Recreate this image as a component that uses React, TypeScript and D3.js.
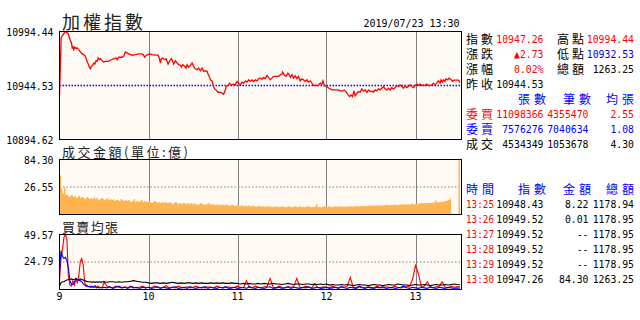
import React from "react";
import * as d3 from "d3";

// ---------- data ----------
const prevClose = 10944.53;
const priceTop = 10994.44;
const priceBottom = 10894.62;

// [minutes since 09:00, index]
const pricePoints: [number, number][] = [
  [0, 10935.76], [1.1, 10988.66], [2.2, 10991.18], [4, 10994.44], [5.9, 10992.39], [6.3, 10990.24],
  [7.2, 10986.14], [8.1, 10983.99], [8.6, 10978.67], [9, 10980.91], [9.6, 10977.74], [10.3, 10979.98],
  [11.2, 10978.67], [11.9, 10979.33], [13, 10977.74], [14.1, 10975.6], [15.3, 10973.73], [16.4, 10973.08],
  [17.5, 10971.58], [18.2, 10968.41], [19.1, 10965.33], [20.2, 10961.32], [20.9, 10960.02], [21.5, 10962.26],
  [22.4, 10963.19], [23.1, 10965.33], [23.8, 10964.4], [24.7, 10967.48], [25.4, 10966.92], [26.1, 10970.0],
  [27, 10968.41], [27.6, 10969.35], [28.8, 10967.48], [29.8, 10965.99], [31, 10966.92], [33.2, 10966.92],
  [34.3, 10967.85], [36.6, 10969.35], [38.2, 10970.0], [38.9, 10968.41], [39.9, 10970.65], [42.2, 10970.65],
  [43.3, 10971.58], [44.4, 10975.6], [46.7, 10973.73], [49, 10972.52], [51.2, 10973.08], [53.4, 10973.73],
  [55.2, 10973.73], [56.4, 10973.08], [57.4, 10970.65], [58.4, 10972.52], [59.7, 10973.08], [60.8, 10973.73],
  [62.4, 10973.08], [64.6, 10972.52], [66.5, 10972.52], [67.3, 10970.0], [68, 10965.33], [68.7, 10969.35],
  [69.6, 10970.0], [70.9, 10968.41], [71.9, 10969.35], [73.2, 10964.4], [74.1, 10966.92], [75.4, 10969.35],
  [76.3, 10966.92], [77, 10964.4], [78.1, 10967.48], [79.3, 10965.33], [80.3, 10963.75], [81.5, 10963.19],
  [82.2, 10961.32], [83, 10963.75], [84.4, 10962.26], [85.3, 10960.67], [86, 10963.75], [87.1, 10961.32],
  [88.2, 10963.19], [89.4, 10965.33], [90.4, 10962.26], [91.6, 10960.02], [92.7, 10959.08], [93.8, 10960.67],
  [94.9, 10958.15], [96.1, 10960.67], [97.2, 10957.59], [98.3, 10958.15], [99.5, 10957.59], [100.1, 10955.07],
  [101, 10952.93], [101.7, 10949.75], [102.8, 10948.82], [103.9, 10943.6], [104.6, 10941.36], [105.5, 10940.43],
  [106.9, 10938.28], [108.4, 10938.28], [109.6, 10937.35], [110.6, 10936.41], [111.8, 10940.43], [112.3, 10943.6],
  [113.6, 10944.53], [114.5, 10946.68], [115.8, 10945.09], [117.4, 10945.74], [118.5, 10945.09], [119.7, 10948.26],
  [120.7, 10946.68], [121.9, 10945.09], [123, 10947.61], [124.1, 10946.68], [125.3, 10948.82], [126.4, 10947.61],
  [127.5, 10949.75], [128.6, 10948.26], [129.8, 10949.75], [130.8, 10948.26], [132, 10949.75], [133.1, 10948.82],
  [134.7, 10951.34], [135.4, 10951.34], [136.5, 10950.41], [137.6, 10951.99], [138.7, 10950.69], [139.9, 10953.86],
  [140.9, 10951.99], [142.1, 10949.75], [143.2, 10951.34], [144.3, 10952.93], [145.9, 10952.93], [147.7, 10952.93],
  [148.8, 10954.42], [150, 10955.07], [150.4, 10956.94], [151.7, 10953.86], [152.7, 10952.93], [154, 10956.0],
  [154.9, 10954.42], [155.8, 10951.99], [156.7, 10954.42], [157.8, 10951.34], [158.9, 10953.49], [160.1, 10950.69],
  [161.1, 10952.93], [162.3, 10948.82], [163.4, 10950.69], [164.5, 10949.75], [165.7, 10948.26], [166.8, 10949.75],
  [167.9, 10947.61], [169, 10948.82], [170.2, 10946.68], [171.2, 10944.53], [172.9, 10944.53], [174.6, 10944.53],
  [175.8, 10946.68], [176.9, 10945.74], [177.6, 10948.82], [178.5, 10945.09], [179.6, 10943.6], [180.9, 10942.66],
  [182.5, 10941.36], [184, 10940.43], [185.9, 10940.43], [187.7, 10940.43], [189.2, 10939.49], [190.8, 10939.49],
  [192.1, 10940.43], [193.1, 10938.93], [194.4, 10936.41], [195.5, 10934.27], [196.6, 10935.76], [197.5, 10934.27],
  [198.5, 10939.49], [199.3, 10935.0], [200.5, 10937.35], [201.5, 10938.93], [202.7, 10938.28], [203.8, 10941.36],
  [204.9, 10939.49], [206.1, 10940.43], [207.2, 10938.28], [208.3, 10940.43], [209.4, 10938.93], [210.6, 10939.49],
  [211.6, 10938.28], [212.8, 10940.43], [213.9, 10939.49], [215, 10941.36], [216.2, 10940.43], [217.3, 10942.01],
  [218.4, 10943.6], [219.5, 10941.36], [220.7, 10940.43], [221.8, 10942.01], [222.9, 10940.43], [224, 10942.66],
  [225.1, 10941.36], [226.3, 10942.66], [227.4, 10944.53], [228.5, 10943.6], [229.6, 10945.09], [230.8, 10943.6],
  [231.9, 10942.01], [233, 10944.53], [234.1, 10942.66], [235.2, 10943.6], [236.4, 10945.09], [237.5, 10943.6],
  [238.6, 10942.66], [239.7, 10944.53], [240.9, 10945.74], [242, 10944.53], [243.1, 10945.74], [244.2, 10944.53],
  [245.3, 10945.09], [246.5, 10944.53], [247.6, 10945.74], [248.7, 10944.53], [249.8, 10944.53], [251, 10945.09],
  [252.1, 10946.68], [253.2, 10945.09], [254.3, 10946.68], [255.4, 10948.82], [256.6, 10946.68], [257.2, 10949.75],
  [258.1, 10947.61], [258.8, 10949.75], [259.9, 10948.26], [260.4, 10950.69], [261.8, 10949.75], [262.6, 10951.34],
  [264, 10949.75], [265, 10948.43], [266, 10949.52], [269, 10949.52], [270, 10947.26],
];

// per-minute amount (億), minutes 09:01 .. 13:30
const volumes = [
  38, 25, 20, 26, 19, 19, 17, 18, 19, 17,
  18, 16, 17, 18, 16, 17, 16, 15, 17, 16,
  15, 16, 15, 17, 15, 16, 14, 15, 16, 15,
  14, 15, 16, 14, 15, 14, 15, 13, 14, 14,
  13, 15, 14, 13, 14, 13, 14, 13, 12, 13,
  15, 12, 13, 12, 13, 14, 12, 13, 12, 12,
  13, 12, 11, 12, 13, 12, 11, 12, 11, 12,
  11, 12, 11, 11, 12, 11, 10, 11, 12, 11,
  10, 11, 10, 11, 11, 10, 11, 10, 11, 10,
  11, 10, 10, 9.5, 10, 11, 10, 9.5, 10, 10,
  11, 10, 9.5, 10, 9.5, 9, 10, 9, 9.5, 9,
  9.5, 9, 10, 9, 8.5, 9, 9.5, 9, 8.5, 8.5,
  9, 8, 8.5, 9, 8, 8.5, 8, 9, 8, 8,
  8.5, 8, 7.5, 8, 8.5, 8, 7.5, 8, 7.5, 8,
  7.5, 8, 7.5, 7, 8, 7.5, 8, 7, 7.5, 7.5,
  8, 7.5, 7, 7.5, 8, 7.5, 7, 7.5, 8, 7.5,
  7, 7.5, 8, 7, 7.5, 7, 7.5, 8, 7.5, 7,
  7.5, 7, 8, 10, 7, 7.5, 7, 7.5, 8, 7.5,
  7, 8, 7.5, 7.5, 7, 8, 7.5, 7.5, 8, 7.5,
  8, 7.5, 7.5, 8, 7.5, 8, 8, 7.5, 8, 8,
  8.5, 8, 8, 8.5, 8, 8.5, 8, 8.5, 8.5, 8.5,
  9, 8.5, 8.5, 9, 8.5, 9, 9, 8.5, 9, 9,
  9.5, 9, 9, 9.5, 9, 9.5, 9.5, 9, 9.5, 9.5,
  10, 9.5, 10, 9.5, 10, 10, 9.5, 10.5, 10, 10,
  10.5, 10, 10.5, 11, 10.5, 11, 10.5, 11, 11, 11,
  11, 11.5, 11, 13.5, 12, 11.5, 12, 12.5, 12, 12.5,
  13, 13.5, 14, 15.5, 1, 0.5, 0.5, 0.5, 0.5, 84.3,
];
const volMaxLabel = 84.3;
const volMid = 26.55;

// average lot size: minutes 0..29 every minute, then every 2 minutes to 270
const avgMax = 49.57;
const avgMid = 24.79;
const buyAvg = [
  8, 28, 36, 47, 49.57, 45, 12, 4, 3, 8, 4, 9, 6, 12, 25, 28, 22, 6, 4, 3, 2.5, 3, 2, 2.5, 3.5, 2, 3, 2, 1.5, 2,
  7, 3, 2, 1.5, 3, 2, 1.5, 2.5, 1.5, 3, 2, 1.5, 2, 3, 1.5,
  2, 1.5, 3, 2, 1.5, 2, 3.5, 1.5, 2, 1.5, 3, 2, 1.5, 2.5, 1.5, 2, 3, 1.5, 2, 1.5, 2.5, 2, 1.5, 3, 2, 1.5, 2, 2.5, 1.5, 2, 3,
  2, 1.5, 8, 2, 1.5, 3, 2, 1.5, 2.5, 3, 10, 2, 1.5, 3, 2, 1.5, 2.5, 2, 3, 10, 2, 1.5, 3, 2, 1.5, 5, 2, 1.5, 2.5, 2,
  1.5, 3, 2, 1.5, 2.5, 2, 3, 11, 2, 1.5, 3, 2, 1.5, 2.5, 2, 1.5, 3, 2, 1.5, 2.5, 2, 1.5, 3, 2, 1.5, 2, 2.5, 3, 9, 21.7,
  14, 2, 3, 7, 2, 1.5, 2.5, 3, 7, 2, 1.5, 3, 2, 2.5, 2.55,
];
const sellAvg = [
  15, 35, 30, 28, 29, 26, 19, 8, 5, 4.5, 6, 10, 9, 8, 8, 7, 5, 4, 3, 3, 2.5, 2, 3, 2, 2.5, 1.5, 2, 1.5, 2, 1.5,
  2, 1.5, 2.5, 1, 2, 3, 1.5, 2, 1, 2.5, 1.5, 2, 1, 2, 1.5,
  2, 1, 1.5, 2.5, 1, 2, 1.5, 1, 2, 2.5, 1, 1.5, 2, 1, 2.5, 1.5, 1, 2, 1.5, 2.5, 1, 2, 1.5, 1, 2, 1.5, 2.5, 1, 1.5, 2, 1,
  1.5, 2, 1, 2.5, 1.5, 1, 2, 1.5, 1, 2, 2.5, 1, 1.5, 2, 1, 1.5, 2.5, 1, 2, 1.5, 1, 2, 1.5, 2.5, 1, 1.5, 2, 1, 1.5, 2,
  1, 1.5, 2, 1, 2.5, 1.5, 1, 2, 1.5, 1, 2.5, 1.5, 1, 2, 1.5, 1, 2, 1.5, 2.5, 1, 1.5, 2, 1, 1.5, 2, 3, 1.5, 1, 2, 1.5,
  1, 2, 1.5, 1, 2.5, 1.5, 1, 2, 1.5, 1, 2, 1.5, 1, 1.5, 1.08,
];
const tradeAvg = [
  3, 6, 7, 7, 8, 8.5, 9, 9, 9.5, 9, 9, 9.5, 9, 9, 9.5, 9, 8.5, 8, 7.5, 7, 7, 7, 6.5, 7, 6.5, 7, 6.5, 7, 6.5, 7,
  7, 6.5, 7, 7, 6.5, 7, 6.5, 7, 7, 7.5, 8, 7.5, 7, 6.5, 6.5,
  6, 5.5, 6, 6, 5.5, 6, 5.5, 6, 6.5, 6, 5.5, 6, 5.5, 6, 6, 5.5, 6, 5.5, 6, 5.5, 5.5, 6, 5.5, 6, 5.5, 6, 5.5, 5.5, 6, 5.5, 5.5,
  5, 5.5, 5, 5.5, 5, 5, 5.5, 5, 5.5, 5, 5, 5.5, 5, 5, 4.5, 5, 5.5, 5, 4.5, 5, 5, 4.5, 5, 5, 4.5, 5, 4.5, 5, 4.5, 5,
  4, 4.5, 4, 4, 4.5, 4, 4.5, 4, 3.5, 4, 4.5, 4, 4, 3.5, 4, 4.5, 4, 4, 3.5, 4, 4.5, 4, 4, 5, 4.5, 4, 4, 3.5, 4, 4.5,
  4, 4, 4.5, 4, 3.5, 4, 4.5, 4, 4, 4.5, 4, 4.5, 5, 4.5, 4.3,
];

const hourLabels = ["9", "10", "11", "12", "13"];
const titleText = "加權指數";
const dateText = "2019/07/23 13:30";
const volTitle = "成交金額(單位:億)";
const avgTitle = "買賣均張";

const sumLabelsL = ["指數", "漲跌", "漲幅", "昨收"];
const sumValuesL = ["10947.26", "▲2.73", "0.02%", "10944.53"];
const sumColorsL = ["#ff0000", "#ff0000", "#ff0000", "#000000"];
const sumLabelsR = ["高點", "低點", "總額"];
const sumValuesR = ["10994.44", "10932.53", "1263.25"];
const sumColorsR = ["#ff0000", "#0000ff", "#000000"];

const orderHeaders = ["張數", "筆數", "均張"];
const orderLabels = ["委買", "委賣", "成交"];
const orderShares = ["11098366", "7576276", "4534349"];
const orderCounts = ["4355470", "7040634", "1053678"];
const orderAvgs = ["2.55", "1.08", "4.30"];
const orderColors = ["#ff0000", "#0000ff", "#000000"];

const tickHeaders = ["時間", "指數", "金額", "總額"];
const tickTimes = ["13:25", "13:26", "13:27", "13:28", "13:29", "13:30"];
const tickIndex = ["10948.43", "10949.52", "10949.52", "10949.52", "10949.52", "10947.26"];
const tickAmount = ["8.22", "0.01", "--", "--", "--", "84.30"];
const tickTotal = ["1178.94", "1178.95", "1178.95", "1178.95", "1178.95", "1263.25"];

// ---------- styling ----------
const NUM_FONT = "'DejaVu Sans Mono', 'Liberation Mono', monospace";
const CJK_FONT = "'Noto Sans CJK TC', 'Noto Sans CJK SC', sans-serif";
// compact-metric primary font; the ideographs fall back to Noto Sans CJK TC
const CJK_ROW_FONT = "'DejaVu Sans', 'Noto Sans CJK TC', sans-serif";
const RED = "#ff0000";
const BLUE = "#0000ff";
const PANEL_BG = "#fffaf3";
const GRID = "#808080";
const BAR = "#ffb450";

function Num({ x, y, text, anchor = "start", fill = "#000", cw = 5.9, size = 11 }: any) {
  return (
    <text x={x} y={y} textAnchor={anchor} fill={fill} fontFamily={NUM_FONT} fontSize={size}
      textLength={text.length * cw} lengthAdjust="spacingAndGlyphs">{text}</text>
  );
}

function Cjk({ x, y, text, fill = "#000", size = 12, width, anchor = "start", family = CJK_FONT }: any) {
  return (
    <text x={x} y={y} textAnchor={anchor} fill={fill} fontFamily={family} fontSize={size}
      textLength={width} lengthAdjust="spacing">{text}</text>
  );
}

export default function App() {
  const left = 59.5, right = 461.5;
  const x = d3.scaleLinear().domain([0, 270]).range([59.5, 460]);

  const main = { top: 31.5, bottom: 139.5 };
  const vol = { top: 159.5, bottom: 214.5 };
  const avg = { top: 234.5, bottom: 289.5 };

  const yP = d3.scaleLinear().domain([priceBottom, priceTop]).range([main.bottom, main.top]);
  const yV = d3.scaleLinear().domain([0, volMid * 2]).range([vol.bottom, vol.top]).clamp(true);
  const yA = d3.scaleLinear().domain([0, avgMax]).range([avg.bottom, avg.top]);

  const priceLine = d3.line<[number, number]>().x((d) => x(d[0])).y((d) => yP(d[1]))(pricePoints) || "";

  const volData = volumes.map((v, i) => ({ m: 270 - (volumes.length - 1 - i), v }));
  const volArea = d3.area<{ m: number; v: number }>()
    .x((d) => x(d.m)).y0(vol.bottom).y1((d) => yV(d.v))
    .curve(d3.curveStepBefore)([{ m: volData[0].m - 1, v: volData[0].v }, ...volData]) || "";

  const avgMinutes = [...d3.range(0, 30), ...d3.range(30, 271, 2)];
  const avgLine = (arr: number[]) =>
    d3.line<number>().x((_, i) => x(avgMinutes[i])).y((d) => yA(d))(arr.slice(0, avgMinutes.length)) || "";

  const hourTicks = [60, 120, 180, 240];
  const panels = [main, vol, avg];

  const rowY = (i: number) => 39 + i * 15;
  const tickRowY = (i: number) => 189 + i * 15;

  return (
    <svg width={640} height={320} viewBox="0 0 640 320"
      style={{ position: "absolute", left: 0, top: 0, display: "block", background: "#fff" }}>
      {/* panel backgrounds */}
      {panels.map((p, i) => (
        <rect key={"bg" + i} x={left} y={p.top} width={right - left} height={p.bottom - p.top} fill={PANEL_BG} />
      ))}
      {/* hour gridlines */}
      {panels.map((p, i) =>
        hourTicks.map((m) => (
          <line key={`g${i}-${m}`} x1={Math.round(x(m)) + 0.5} x2={Math.round(x(m)) + 0.5} y1={p.top} y2={p.bottom}
            stroke={GRID} strokeWidth={1} />
        ))
      )}
      {/* reference lines */}
      <line x1={left} x2={right} y1={yP(prevClose)} y2={yP(prevClose)} stroke={BLUE} strokeWidth={1.3} strokeDasharray="1.5,1.5" />
      <line x1={left} x2={right} y1={yV(volMid)} y2={yV(volMid)} stroke={GRID} strokeWidth={1} strokeDasharray="1.5,2" />
      <line x1={left} x2={right} y1={yA(avgMid)} y2={yA(avgMid)} stroke={GRID} strokeWidth={1} strokeDasharray="1.5,2" />

      {/* volume bars */}
      <path d={volArea} fill={BAR} />
      {/* price line */}
      <path d={priceLine} fill="none" stroke={RED} strokeWidth={1.3} strokeLinejoin="miter" />
      {/* avg lines */}
      <path d={avgLine(buyAvg)} fill="none" stroke={RED} strokeWidth={1.1} />
      <path d={avgLine(sellAvg)} fill="none" stroke={BLUE} strokeWidth={1.1} />
      <path d={avgLine(tradeAvg)} fill="none" stroke="#000" strokeWidth={1.1} />

      {/* borders */}
      {panels.map((p, i) => (
        <rect key={"bd" + i} x={left} y={p.top} width={right - left} height={p.bottom - p.top} fill="none" stroke="#000" strokeWidth={1} />
      ))}

      {/* titles */}
      <Cjk x={62} y={28.5} text={titleText} size={18} width={81} fill="#222" />
      <Num x={459.5} y={27.3} text={dateText} anchor="end" cw={6} />
      <Cjk x={62} y={156.5} text={volTitle} size={13} width={126} fill="#222" />
      <Cjk x={62} y={232} text={avgTitle} size={13} width={56} fill="#222" />

      {/* y labels */}
      <Num x={53.5} y={yP(priceTop) + 4} text={priceTop.toFixed(2)} anchor="end" />
      <Num x={53.5} y={yP(prevClose) + 4} text={prevClose.toFixed(2)} anchor="end" />
      <Num x={53.5} y={yP(priceBottom) + 4} text={priceBottom.toFixed(2)} anchor="end" />
      <Num x={53.5} y={vol.top + 4.5} text={volMaxLabel.toFixed(2)} anchor="end" />
      <Num x={53.5} y={yV(volMid) + 3.5} text={volMid.toFixed(2)} anchor="end" />
      <Num x={53.5} y={avg.top + 4.5} text={avgMax.toFixed(2)} anchor="end" />
      <Num x={53.5} y={yA(avgMid) + 3.5} text={avgMid.toFixed(2)} anchor="end" />

      {/* x labels */}
      {hourLabels.map((h, i) => (
        <Num key={"h" + h} x={x(i * 60)} y={300} text={h} anchor="middle" cw={6} />
      ))}

      {/* right info panel: summary */}
      {sumLabelsL.map((l, i) => (
        <g key={"sl" + i}>
          <Cjk x={466} y={rowY(i) + 5} text={l} width={27} family={CJK_ROW_FONT} />
          <Num x={543.5} y={rowY(i) + 4} text={sumValuesL[i]} anchor="end" fill={sumColorsL[i]} />
        </g>
      ))}
      {sumLabelsR.map((l, i) => (
        <g key={"sr" + i}>
          <Cjk x={557} y={rowY(i) + 5} text={l} width={27} family={CJK_ROW_FONT} />
          <Num x={634} y={rowY(i) + 4} text={sumValuesR[i]} anchor="end" fill={sumColorsR[i]} />
        </g>
      ))}
      {/* order book */}
      {orderHeaders.map((h, i) => (
        <Cjk key={"oh" + i} x={[546, 591, 634][i]} y={rowY(4) + 5} text={h} width={28} fill={BLUE} anchor="end" family={CJK_ROW_FONT} />
      ))}
      {orderLabels.map((l, i) => (
        <g key={"ol" + i}>
          <Cjk x={466} y={rowY(5 + i) + 5} text={l} width={27} fill={orderColors[i]} family={CJK_ROW_FONT} />
          <Num x={543.5} y={rowY(5 + i) + 4} text={orderShares[i]} anchor="end" fill={orderColors[i]} />
          <Num x={588.5} y={rowY(5 + i) + 4} text={orderCounts[i]} anchor="end" fill={orderColors[i]} />
          <Num x={634} y={rowY(5 + i) + 4} text={orderAvgs[i]} anchor="end" fill={orderColors[i]} />
        </g>
      ))}
      {/* tick table */}
      {tickHeaders.map((h, i) => (
        <Cjk key={"th" + i} x={[494, 546, 591, 634][i]} y={tickRowY(0) + 5} text={h} width={28} fill={BLUE} anchor="end" family={CJK_ROW_FONT} />
      ))}
      {tickTimes.map((t, i) => (
        <g key={"tr" + i}>
          <Num x={466} y={tickRowY(i + 1) + 4} text={t} fill={RED} cw={5.6} />
          <Num x={543.5} y={tickRowY(i + 1) + 4} text={tickIndex[i]} anchor="end" />
          <Num x={588.5} y={tickRowY(i + 1) + 4} text={tickAmount[i]} anchor="end" />
          <Num x={634} y={tickRowY(i + 1) + 4} text={tickTotal[i]} anchor="end" />
        </g>
      ))}
    </svg>
  );
}
